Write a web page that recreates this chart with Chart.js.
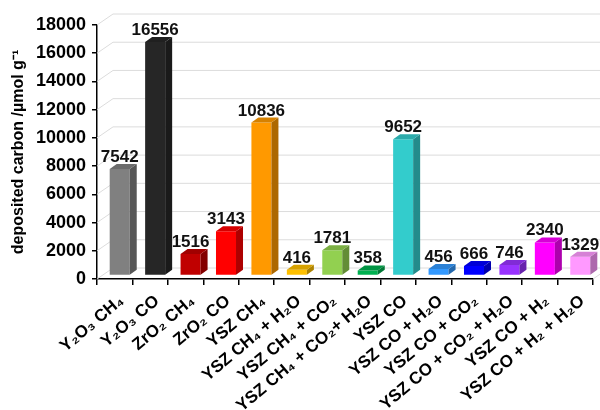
<!DOCTYPE html>
<html>
<head>
<meta charset="utf-8">
<script src="https://cdn.jsdelivr.net/npm/chart.js@4"></script>
<style>
  html, body { margin: 0; padding: 0; background: #fff; }
  #chart { display: block; }
</style>
</head>
<body>
<canvas id="chart" width="600" height="410"></canvas>
<script>
// Catalyst / feed combinations
const categories = [
    'Y₂O₃ CH₄', 'Y₂O₃ CO', 'ZrO₂ CH₄', 'ZrO₂ CO', 'YSZ CH₄',
    'YSZ CH₄ + H₂O', 'YSZ CH₄ + CO₂', 'YSZ CH₄ + CO₂+ H₂O', 'YSZ CO',
    'YSZ CO + H₂O', 'YSZ CO + CO₂', 'YSZ CO + CO₂ + H₂O', 'YSZ CO + H₂',
    'YSZ CO + H₂ + H₂O'
];
// Deposited carbon, µmol per gram
const depositedCarbon = [7542, 16556, 1516, 3143, 10836, 416, 1781, 358, 9652, 456, 666, 746, 2340, 1329];
const barColors = [
    '#808080', '#262626', '#c00000', '#ff0000', '#ff9900', '#ffc000', '#92d050',
    '#00b050', '#33cccc', '#3399ff', '#0000ff', '#9933ff', '#ff00ff', '#ff99ff'
];
const yTicks = [0, 2000, 4000, 6000, 8000, 10000, 12000, 14000, 16000, 18000];

const FONT = "'Liberation Sans', Arial, sans-serif";

// darken a hex colour by a factor
function shade(hex, f) {
    const n = parseInt(hex.slice(1), 16);
    const r = Math.round(((n >> 16) & 255) * f);
    const g = Math.round(((n >> 8) & 255) * f);
    const b = Math.round((n & 255) * f);
    return `rgb(${r},${g},${b})`;
}

// depth of the back wall and of the bars, and the bars' offset into the floor
const WALL = { dx: 16, dy: -11 };
const BAR = { dx: 7, dy: -5 };
const SHIFT = { dx: 5, dy: -3.5 };

const pseudo3d = {
    id: 'pseudo3d',
    beforeDatasetsDraw(chart) {
        const { ctx, chartArea } = chart;
        const y = chart.scales.y;
        // back wall grid
        ctx.save();
        ctx.strokeStyle = '#dcdcdc';
        ctx.lineWidth = 1;
        yTicks.forEach(v => {
            const py = y.getPixelForValue(v);
            ctx.beginPath();
            ctx.moveTo(chartArea.left, py);
            ctx.lineTo(chartArea.left + WALL.dx, py + WALL.dy);
            ctx.lineTo(chart.width, py + WALL.dy);
            ctx.stroke();
        });
        // right edge of the floor
        const pb = y.getPixelForValue(0);
        ctx.beginPath();
        ctx.moveTo(chartArea.right, pb);
        ctx.lineTo(chartArea.right + WALL.dx, pb + WALL.dy);
        ctx.stroke();
        ctx.restore();

        ctx.save();
        ctx.translate(SHIFT.dx, SHIFT.dy);
    },
    afterDatasetsDraw(chart) {
        const { ctx } = chart;
        const meta = chart.getDatasetMeta(0);
        meta.data.forEach((bar, i) => {
            const x0 = bar.x - bar.width / 2;
            const x1 = bar.x + bar.width / 2;
            const yt = bar.y;
            const yb = bar.base;
            const c = barColors[i];
            // side face
            ctx.fillStyle = shade(c, 0.68);
            ctx.beginPath();
            ctx.moveTo(x1, yt);
            ctx.lineTo(x1 + BAR.dx, yt + BAR.dy);
            ctx.lineTo(x1 + BAR.dx, yb + BAR.dy);
            ctx.lineTo(x1, yb);
            ctx.closePath();
            ctx.fill();
            // top face
            ctx.fillStyle = shade(c, 0.84);
            ctx.beginPath();
            ctx.moveTo(x0, yt);
            ctx.lineTo(x0 + BAR.dx, yt + BAR.dy);
            ctx.lineTo(x1 + BAR.dx, yt + BAR.dy);
            ctx.lineTo(x1, yt);
            ctx.closePath();
            ctx.fill();
            // value label
            ctx.fillStyle = '#111';
            ctx.font = `bold 17px ${FONT}`;
            ctx.textAlign = 'center';
            ctx.textBaseline = 'alphabetic';
            ctx.fillText(String(depositedCarbon[i]), bar.x, yt - 7);
        });
        ctx.restore();
    }
};

new Chart(document.getElementById('chart'), {
    type: 'bar',
    data: {
        labels: categories,
        datasets: [{
            data: depositedCarbon,
            backgroundColor: barColors,
            borderWidth: 0,
            barPercentage: 0.565,
            categoryPercentage: 1
        }]
    },
    options: {
        responsive: false,
        animation: false,
        devicePixelRatio: 1,
        layout: { padding: { top: 25, right: 7, left: 0, bottom: 0 } },
        plugins: {
            legend: { display: false },
            tooltip: { enabled: false }
        },
        scales: {
            x: {
                afterFit: (scale) => { scale.height = 131; },
                border: { display: true, color: '#000', width: 1.5 },
                grid: { drawOnChartArea: false, tickLength: 6, color: '#000', lineWidth: 1.5 },
                ticks: {
                    color: '#000',
                    font: { family: FONT, size: 17, weight: 'bold' },
                    minRotation: 40,
                    maxRotation: 40,
                    autoSkip: false,
                    padding: 6,
                    labelOffset: 7
                }
            },
            y: {
                min: 0,
                max: 18000,
                afterFit: (scale) => { scale.width = 97; },
                border: { display: true, color: '#000', width: 1.5 },
                grid: { drawOnChartArea: false, tickLength: 5, color: '#000', lineWidth: 1.5 },
                ticks: {
                    stepSize: 2000,
                    color: '#000',
                    padding: 6,
                    font: { family: FONT, size: 18, weight: 'bold' },
                    callback: (v) => String(v)
                },
                title: {
                    display: true,
                    text: 'deposited carbon /µmol g⁻¹',
                    color: '#000',
                    padding: { top: 9, bottom: 0 },
                    font: { family: FONT, size: 16, weight: 'bold' }
                }
            }
        }
    },
    plugins: [pseudo3d]
});
</script>
</body>
</html>
